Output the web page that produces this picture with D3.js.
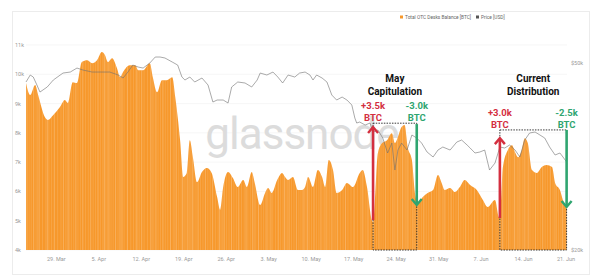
<!DOCTYPE html>
<html>
<head>
<meta charset="utf-8">
<script src="https://cdn.jsdelivr.net/npm/d3@7"></script>
<style>
  body { margin: 0; background: #fff; }
  svg text { font-family: Roboto, "Open Sans", sans-serif; }
</style>
</head>
<body>
<div id="chart"></div>
<script>
// days since 24 Mar 2021 (UTC) and values
var balanceDay = [0,0.7,1.5,2.0,3.1,3.6,4.5,5.6,6.4,6.9,7.7,8.4,9.2,10.1,10.9,11.7,12.5,13.0,13.5,14.2,15.0,15.5,16.0,17.1,18.0,18.5,19.3,20.4,20.9,21.6,22.4,23.2,24.1,24.6,25.4,25.9,26.5,27.0,27.5,28.2,29.0,29.8,30.6,31.5,32.0,32.5,33.3,34.1,34.9,35.8,36.4,37.2,37.7,38.6,39.4,39.9,40.5,41.4,42.2,42.7,43.2,44.0,44.8,45.5,46.0,46.5,47.3,48.1,48.8,49.3,49.9,50.6,51.2,52.1,52.9,53.9,55.0,55.5,56.2,57.0,57.2,58.0,58.7,59.5,60.3,60.8,61.3,61.9,62.4,62.9,63.6,64.1,64.6,65.4,66.2,67.1,67.9,68.5,69.0,69.9,70.7,71.5,72.3,73.2,74.3,75.3,76.1,77.3,77.9,78.1,78.6,79.4,80.1,80.6,81.1,81.7,82.2,82.7,83.4,84.2,85.0,85.8,86.7,87.2,88.0,88.5,89.1];
var balanceK = [9.70,9.29,9.63,9.29,8.54,8.44,8.61,8.88,9.12,9.02,9.73,9.70,10.42,10.48,10.38,10.48,10.76,10.66,10.42,10.55,10.21,9.90,10.08,10.31,10.31,10.14,10.14,10.38,9.90,9.39,9.80,9.80,9.90,9.22,7.75,6.49,6.63,7.75,7.17,6.32,6.66,6.80,6.63,5.81,5.37,6.15,6.66,6.46,6.15,6.39,6.15,6.66,6.29,5.54,5.95,6.12,5.95,6.39,6.63,6.49,6.39,6.49,6.05,6.05,6.15,6.49,6.15,6.73,6.49,6.15,7.07,6.73,5.95,6.05,6.29,6.15,6.63,6.73,6.15,5.02,4.96,7.31,7.65,7.75,7.99,7.65,7.86,8.20,8.27,7.52,7.07,5.95,5.60,5.81,5.95,6.05,6.56,6.29,6.05,6.12,5.98,6.15,6.39,6.22,6.05,5.71,5.47,5.71,5.13,5.09,6.83,7.41,7.58,7.34,7.17,7.41,7.82,7.65,6.73,6.63,6.83,6.90,6.83,6.29,6.05,5.71,5.47];

var priceDay = [0,0.7,1.2,1.8,2.3,3.5,4.5,6.1,7.3,8.4,9.4,10.9,12.2,13.8,15.2,16.0,16.8,17.6,18.5,19.3,20.4,21.3,22.1,22.9,24.1,25.0,25.7,26.2,27.0,27.8,29.0,30.0,30.8,31.5,32.5,33.3,33.9,34.9,36.1,37.2,38.1,38.6,39.7,40.7,41.5,42.3,43.2,44.3,45.1,46.0,46.8,47.3,47.9,48.8,49.6,50.4,51.2,52.1,52.9,53.7,54.2,54.5,55.0,55.9,56.7,57.2,58.0,58.8,59.6,60.3,60.8,61.3,61.9,62.8,63.6,64.4,65.2,66.1,67.1,67.9,68.7,69.9,71.0,71.8,72.7,73.2,74.0,74.8,75.6,76.4,77.3,78.1,78.9,79.7,80.6,81.4,82.2,83.0,83.9,84.7,85.5,86.3,87.2,88.0,88.5,89.1];
var priceK = [46.95,48.07,47.75,46.47,45.34,46.15,47.27,48.39,48.55,49.19,48.87,48.55,48.55,48.55,48.07,47.59,48.55,49.67,49.35,49.19,49.99,50.96,50.96,50.80,50.16,49.67,47.75,47.27,47.75,46.95,47.59,46.47,43.74,44.06,44.06,43.58,46.15,46.95,46.79,46.15,47.27,48.39,48.07,48.55,47.75,46.79,48.07,47.75,48.39,48.55,48.07,47.27,48.07,47.59,46.95,44.86,44.06,44.54,44.06,43.26,41.17,40.37,40.53,40.05,40.37,38.93,39.25,37.96,35.56,37.16,32.83,36.04,37.16,36.04,38.45,37.96,37.16,35.72,34.92,36.04,36.52,36.04,37.32,37.64,36.84,36.36,35.56,35.72,36.04,32.83,33.95,36.52,36.36,36.84,36.04,34.92,37.64,38.77,38.93,38.45,37.96,36.52,35.24,35.56,34.92,34.12];

var leftTicks = [4, 5, 6, 7, 8, 9, 10, 11];
var rightTicks = [20, 50];
var legendLabels = ["Total OTC Desks Balance [BTC]", "Price [USD]"];

// annotation boxes: day range, box top value, arrows and label height (k BTC)
var notes = [
  { title: ["May", "Capitulation"], from: 57.2, to: 64.4, top: 8.33, labelAt: 8.81,
    up: [5.02, 8.2], down: [8.3, 5.54], upText: "+3.5k", downText: "-3.0k" },
  { title: ["Current", "Distribution"], from: 78.1, to: 89.1, top: 8.1, labelAt: 8.56,
    up: [5.09, 7.82], down: [8.1, 5.47], upText: "+3.0k", downText: "-2.5k" }
];

var width = 600, height = 278;
var start = Date.UTC(2021, 2, 24);
var toDate = function(d) { return new Date(start + d * 864e5); };

var orange = "#f7982b", red = "#d42f3f", green = "#2fa570";

var svg = d3.select("#chart").append("svg").attr("width", width).attr("height", height);

// card border
svg.append("rect").attr("x", 12.5).attr("y", 11.5).attr("width", 577).attr("height", 263)
  .attr("fill", "none").attr("stroke", "#ececec");

var x = d3.scaleUtc().domain([toDate(0), toDate(89)]).range([26, 566]);
var y = d3.scaleLinear().domain([4, 11]).range([250, 45]);
var yPrice = d3.scaleLinear().domain([20, 50]).range([250, 63]);

// grid
svg.append("g").selectAll("line").data(leftTicks).enter().append("line")
  .attr("x1", 26).attr("x2", 567)
  .attr("y1", d => y(d)).attr("y2", d => y(d))
  .attr("stroke", "#f0f0f0").attr("stroke-width", 0.6);

// watermark
svg.append("text").attr("x", 302).attr("y", 149).attr("text-anchor", "middle")
  .attr("font-size", 44).attr("fill", "#dcdcdc").attr("letter-spacing", -1)
  .text("glassnode");

// balance area
var balance = balanceDay.map((d, i) => ({ t: toDate(d), v: balanceK[i] }));
var area = d3.area().x(d => x(d.t)).y0(y(4)).y1(d => y(d.v)).curve(d3.curveMonotoneX);

svg.append("clipPath").attr("id", "areaClip").append("path").attr("d", area(balance));
svg.append("path").attr("d", area(balance)).attr("fill", orange);

// lighter vertical streaks inside the area (at each sample and half-way to the next)
var streaks = [];
balance.forEach(function(d, i) {
  streaks.push(x(d.t));
  if (i < balance.length - 1) streaks.push((x(d.t) + x(balance[i + 1].t)) / 2);
});
svg.append("g").attr("clip-path", "url(#areaClip)")
  .selectAll("line").data(streaks).enter().append("line")
  .attr("x1", d => d + 1).attr("x2", d => d + 1)
  .attr("y1", 40).attr("y2", 250)
  .attr("stroke", "#fff").attr("stroke-opacity", (d, i) => i % 3 == 0 ? 0.3 : 0.16)
  .attr("stroke-width", 0.8);

// price line
var price = priceDay.map((d, i) => ({ t: toDate(d), v: priceK[i] }));
var line = d3.line().x(d => x(d.t)).y(d => yPrice(d.v));
svg.append("path").attr("d", line(price)).attr("fill", "none")
  .attr("stroke", "#707070").attr("stroke-width", 0.6);

// axes labels
svg.append("g").selectAll("text").data(leftTicks).enter().append("text")
  .attr("x", 15).attr("y", d => y(d) + 2).attr("font-size", 5.5).attr("fill", "#999")
  .text(d => d + "k");

svg.append("g").selectAll("text").data(rightTicks).enter().append("text")
  .attr("x", 571).attr("y", d => yPrice(d) + 2).attr("font-size", 5.5).attr("fill", "#999")
  .text(d => "$" + d + "k");

var fmt = d3.utcFormat("%-d. %b");
svg.append("g").selectAll("text").data(x.ticks(d3.utcMonday.every(1))).enter().append("text")
  .attr("x", d => x(d)).attr("y", 261).attr("text-anchor", "middle")
  .attr("font-size", 5.5).attr("fill", "#999").text(d => fmt(d));

// legend
var lg = svg.append("g").attr("transform", "translate(400,17)");
lg.append("rect").attr("x", 0).attr("y", -1.5).attr("width", 3).attr("height", 3).attr("fill", orange);
lg.append("text").attr("x", 5).attr("y", 1.7).attr("font-size", 4.8).attr("fill", "#666").text(legendLabels[0]);
lg.append("rect").attr("x", 76).attr("y", -1.5).attr("width", 3).attr("height", 3).attr("fill", "#555");
lg.append("text").attr("x", 81).attr("y", 1.7).attr("font-size", 4.8).attr("fill", "#666").text(legendLabels[1]);

// annotations
notes.forEach(function(n) {
  var x0 = x(toDate(n.from)), x1 = x(toDate(n.to));
  var ly = y(n.labelAt);
  var g = svg.append("g");
  g.append("rect").attr("x", x0).attr("y", y(n.top)).attr("width", x1 - x0).attr("height", y(4) - y(n.top))
    .attr("fill", "none").attr("stroke", "#222").attr("stroke-width", 0.9).attr("stroke-dasharray", "1.5,1.2");

  g.selectAll(".title").data(n.title).enter().append("text")
    .attr("x", (x0 + x1) / 2).attr("y", (d, i) => 82 + i * 12.5).attr("text-anchor", "middle")
    .attr("font-size", 10).attr("font-weight", 700).attr("fill", "#111").text(d => d);

  // up arrow (red)
  var ya = y(n.up[0]), yb = y(n.up[1]);
  g.append("line").attr("x1", x0).attr("x2", x0).attr("y1", ya).attr("y2", yb + 1)
    .attr("stroke", red).attr("stroke-width", 2.6);
  g.append("path").attr("d", "M" + (x0 - 5) + "," + (yb + 6) + "L" + x0 + "," + yb + "L" + (x0 + 5) + "," + (yb + 6))
    .attr("fill", "none").attr("stroke", red).attr("stroke-width", 2.4);
  g.selectAll(".ut").data([n.upText, "BTC"]).enter().append("text")
    .attr("x", x0).attr("y", (d, i) => ly + i * 11.8).attr("text-anchor", "middle")
    .attr("font-size", 9.5).attr("font-weight", 700).attr("fill", red).text(d => d);

  // down arrow (green)
  var yc = y(n.down[0]), yd = y(n.down[1]);
  g.append("line").attr("x1", x1).attr("x2", x1).attr("y1", yc).attr("y2", yd - 1)
    .attr("stroke", green).attr("stroke-width", 2.6);
  g.append("path").attr("d", "M" + (x1 - 5) + "," + (yd - 6) + "L" + x1 + "," + yd + "L" + (x1 + 5) + "," + (yd - 6))
    .attr("fill", "none").attr("stroke", green).attr("stroke-width", 2.4);
  g.selectAll(".dt").data([n.downText, "BTC"]).enter().append("text")
    .attr("x", x1).attr("y", (d, i) => ly + i * 11.8).attr("text-anchor", "middle")
    .attr("font-size", 9.5).attr("font-weight", 700).attr("fill", green).text(d => d);
});
</script>
</body>
</html>
